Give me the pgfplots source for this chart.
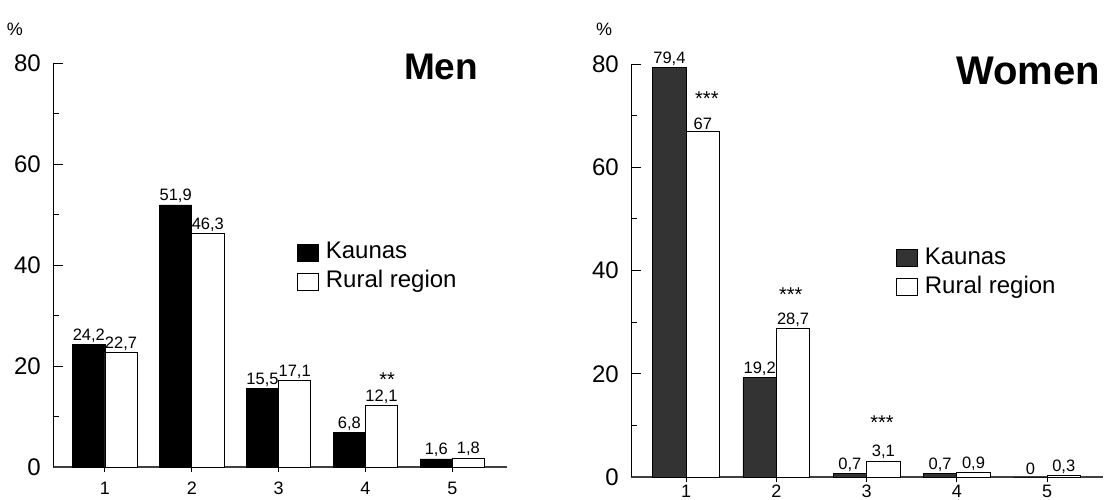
\documentclass[border=0pt]{standalone}
\usepackage{pgfplots}
\pgfplotsset{compat=1.18}
\usepackage{fontspec}
\setmainfont{Liberation Sans}
\newcommand\myfs[1]{\fontsize{#1bp}{#1bp}\selectfont}

\pgfplotsset{
  panel/.style={
    scale only axis,
    anchor=south west,
    ymin=0, ymax=80,
    ytick={0,20,40,60,80},
    minor ytick={10,30,50,70},
    xtick={1,2,3,4,5},
    axis x line=bottom, axis y line=left,
    x axis line style={-, line width=1.4bp, draw=black!75},
    y axis line style={-, line width=1bp, draw=black},
    tick align=inside,
    major tick length=10bp, minor tick length=6bp,
    tick style={line width=0.9bp, black},
    xtick style={/pgfplots/major tick length=5bp},
    yticklabel style={font=\myfs{24}, inner sep=0pt, xshift=-12bp},
    xticklabel style={font=\myfs{18}, inner sep=0pt},
    /pgf/number format/assume math mode=true,
    ybar, bar width=0.37,
    clip=false,
    point meta=explicit symbolic,
    nodes near coords={\pgfplotspointmeta},
    every node near coord/.append style={font=\myfs{16.5}, inner sep=1.5bp, anchor=south},
    legend image code/.code={\draw[##1, line width=0.9bp] (0bp,-8bp) rectangle (21bp,9bp); \path (27bp,0bp);},
    legend cell align=left,
    legend style={draw=none, fill=none, font=\myfs{24}, inner sep=0pt,
      nodes={inner sep=1bp, text height=17bp, text depth=5bp},
      row sep=5bp},
  },
}

\begin{document}
\begin{tikzpicture}
\useasboundingbox (0,0) rectangle (1105bp,500bp);

% ---------------- Men ----------------
\begin{axis}[panel,
  at={(53bp,33bp)}, width=454bp, height=404bp,
  xmin=0.402, xmax=5.63,
  xticklabel style={yshift=-5bp},
  legend style={at={(0.537,0.560)}, anchor=north west},
]
\addplot[draw=black, fill=black, line width=0.8bp, bar shift=-0.185]
  coordinates {(1,24.2) [24,2] (2,51.9) [51,9] (3,15.5) [15,5] (4,6.8) [6,8] (5,1.6) [1,6]};
\addplot[draw=black, fill=white, line width=0.8bp, bar shift=0.185]
  coordinates {(1,22.7) [22,7] (2,46.3) [46,3] (3,17.1) [17,1] (4,12.1) [12,1] (5,1.8) [1,8]};
\legend{Kaunas, Rural region}
\node[font=\myfs{20}, anchor=base] at (axis cs:4.25,16.0) {**};
\end{axis}

% ---------------- Women ----------------
\begin{axis}[panel,
  at={(631bp,23bp)}, width=472bp, height=413bp,
  xmin=0.389, xmax=5.62,
  xticklabel style={yshift=2bp},
  legend style={at={(0.561,0.558)}, anchor=north west},
]
\addplot[draw=black, fill=black!80, line width=0.8bp, bar shift=-0.185]
  coordinates {(1,79.4) [79,4] (2,19.2) [19,2] (3,0.7) [0,7] (4,0.7) [0,7] (5,0) [0]};
\addplot[draw=black, fill=white, line width=0.8bp, bar shift=0.185]
  coordinates {(1,67) [67] (2,28.7) [28,7] (3,3.1) [3,1] (4,0.9) [0,9] (5,0.3) [0,3]};
\legend{Kaunas, Rural region}
\node[font=\myfs{20}, anchor=base] at (axis cs:1.23,72.0) {***};
\node[font=\myfs{20}, anchor=base] at (axis cs:2.16,34.0) {***};
\node[font=\myfs{20}, anchor=base] at (axis cs:3.17,9.2) {***};
\end{axis}

% titles and unit labels
\node[font=\bfseries\myfs{37}, anchor=base] at (441bp,420bp) {Men};
\node[font=\bfseries\myfs{40}, anchor=base] at (1028bp,415bp) {Women};
\node[font=\myfs{18}] at (15bp,471bp) {\%};
\node[font=\myfs{18}] at (604bp,471bp) {\%};
\end{tikzpicture}
\end{document}
